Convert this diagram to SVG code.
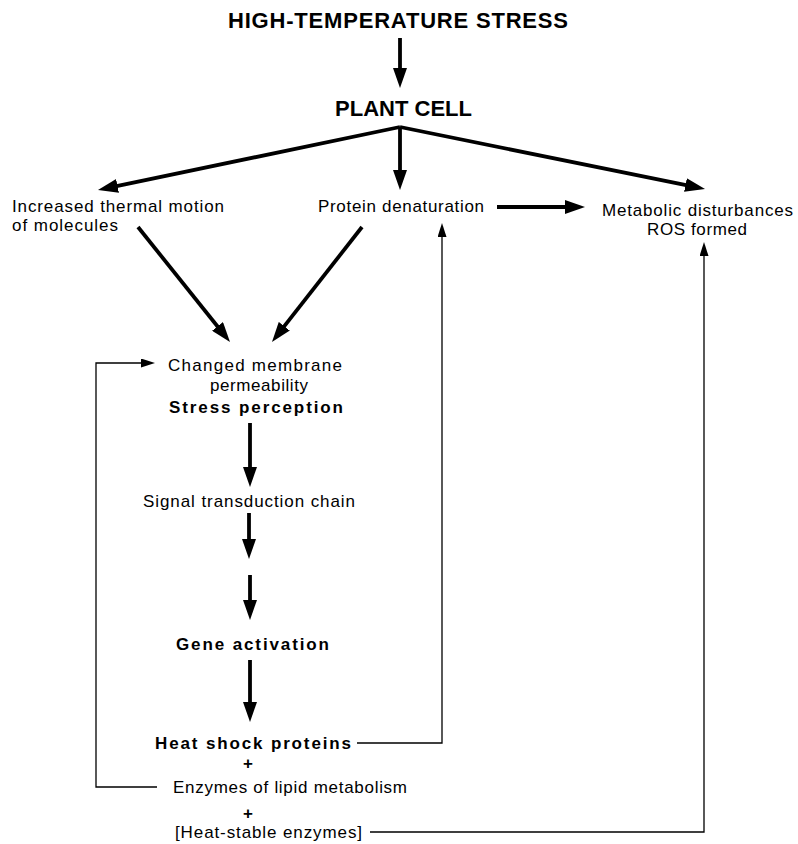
<svg xmlns="http://www.w3.org/2000/svg" width="798" height="844" viewBox="0 0 798 844">
<style>
text{font-family:"Liberation Sans",Arial,sans-serif;fill:#000}
.r{font-size:17px}
.b{font-size:17px;font-weight:bold}
.h{font-size:22px;font-weight:bold}
.thick{stroke:#000;stroke-width:3.8;fill:none;marker-end:url(#ah)}
.thina{stroke:#000;stroke-width:1.3;fill:none;marker-end:url(#ahs)}
</style>
<defs>
<marker id="ah" markerUnits="userSpaceOnUse" markerWidth="20" markerHeight="14" refX="12" refY="7" orient="auto"><path d="M0,0 L20,7 L0,14 z" fill="#000"/></marker>
<marker id="ahs" markerUnits="userSpaceOnUse" markerWidth="14" markerHeight="9" refX="10" refY="4.5" orient="auto"><path d="M0,0 L14,4.5 L0,9 z" fill="#000"/></marker>
</defs>
<rect width="798" height="844" fill="#fff"/>
<g id="connectors">
<line class="thick" x1="400" y1="38" x2="400" y2="80"/>
<line class="thick" x1="400" y1="127" x2="105.8" y2="188.4"/>
<line class="thick" x1="400" y1="127" x2="400" y2="182"/>
<line class="thick" x1="400" y1="127" x2="697.2" y2="187.4"/>
<line class="thick" x1="497" y1="207" x2="577" y2="207"/>
<line class="thick" x1="138" y1="227" x2="225" y2="335.8"/>
<line class="thick" x1="362" y1="227" x2="276.9" y2="335.7"/>
<line class="thick" x1="250" y1="423" x2="250" y2="479"/>
<line class="thick" x1="249" y1="513" x2="249" y2="551"/>
<line class="thick" x1="250" y1="575" x2="250" y2="612"/>
<line class="thick" x1="250" y1="660" x2="250" y2="714"/>
<polyline class="thina" points="357,743 442,743 442,227"/>
<polyline class="thina" points="370,832 704,832 704,246"/>
<polyline class="thina" points="157,787 96,787 96,363 151,363"/>
</g>
<g id="n-stress"><text class="h" x="398" y="28" text-anchor="middle" textLength="340" lengthAdjust="spacing">HIGH-TEMPERATURE STRESS</text></g>
<g id="n-plantcell"><text class="h" x="335" y="116" textLength="137" lengthAdjust="spacing">PLANT CELL</text></g>
<g id="n-thermal">
<text class="r" x="12" y="212" textLength="212" lengthAdjust="spacing">Increased thermal motion</text>
<text class="r" x="12" y="231" textLength="106" lengthAdjust="spacing">of molecules</text>
</g>
<g id="n-denat"><text class="r" x="318" y="212" textLength="166" lengthAdjust="spacing">Protein denaturation</text></g>
<g id="n-metab">
<text class="r" x="602" y="216" textLength="191" lengthAdjust="spacing">Metabolic disturbances</text>
<text class="r" x="647" y="235" textLength="100" lengthAdjust="spacing">ROS formed</text>
</g>
<g id="n-membrane">
<text class="r" x="168" y="371" textLength="174" lengthAdjust="spacing">Changed membrane</text>
<text class="r" x="210" y="391" textLength="98" lengthAdjust="spacing">permeability</text>
<text class="b" x="169" y="413" textLength="174" lengthAdjust="spacing">Stress perception</text>
</g>
<g id="n-signal"><text class="r" x="143" y="507" textLength="212" lengthAdjust="spacing">Signal transduction chain</text></g>
<g id="n-gene"><text class="b" x="176" y="650" textLength="153" lengthAdjust="spacing">Gene activation</text></g>
<g id="n-hsp"><text class="b" x="155" y="749" textLength="196" lengthAdjust="spacing">Heat shock proteins</text></g>
<g id="n-plus1"><text class="b" x="248" y="769" text-anchor="middle">+</text></g>
<g id="n-lipid"><text class="r" x="173" y="793" textLength="234" lengthAdjust="spacing">Enzymes of lipid metabolism</text></g>
<g id="n-plus2"><text class="b" x="248" y="819" text-anchor="middle">+</text></g>
<g id="n-heatstable"><text class="r" x="175" y="838" textLength="187" lengthAdjust="spacing">[Heat-stable enzymes]</text></g>
</svg>
